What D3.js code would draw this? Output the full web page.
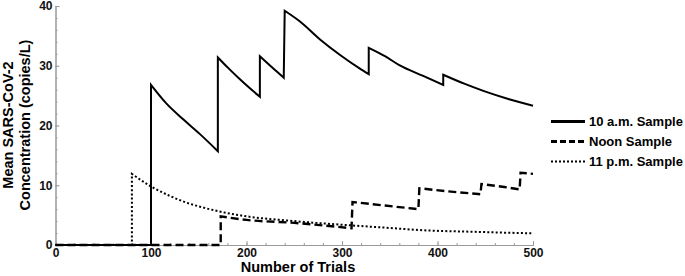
<!DOCTYPE html>
<html lang="en">
<head>
    <meta charset="UTF-8">
    <script src="https://cdnjs.cloudflare.com/ajax/libs/d3/7.8.5/d3.min.js"></script>
    <style>
        body { margin: 0; background: #fff; }
        svg { font-family: "Liberation Sans", Arial, sans-serif; }
    </style>
</head>
<body>
    <svg id="chart" width="685" height="276"></svg>
    <script>
        // [trial, mean concentration]
        const amSample = [
            [0, 0], [100, 0], [100, 26.8], [116, 23.7], [134, 21.0], [151, 18.6], [170, 15.7],
            [170, 31.4], [181, 29.6], [192, 27.9], [203, 26.3], [214, 24.8],
            [214, 31.6], [227, 29.7], [239, 28.0],
            [240, 39.2], [256, 37.4], [277, 34.4], [298, 31.8], [318, 29.6], [328, 28.6],
            [328, 33.0], [345, 31.6], [360, 30.1], [385, 28.3], [406, 26.8],
            [406, 28.5], [428, 27.0], [448, 25.8], [475, 24.4], [500, 23.3]
        ];
        const noonSample = [
            [0, 0], [173, 0], [173, 4.8], [200, 4.2], [250, 3.7], [310, 2.8],
            [311, 7.2], [345, 6.6], [380, 6.0],
            [381, 9.5], [410, 9.0], [445, 8.5],
            [446, 10.2], [470, 9.7], [486, 9.3],
            [487, 12.1], [500, 11.9]
        ];
        const pmSample = [
            [0, 0], [80, 0], [80, 11.9], [100, 9.8], [120, 8.2], [137, 7.1], [155, 6.25],
            [172, 5.6], [200, 4.8], [250, 4.0], [308, 3.3], [350, 2.85], [381, 2.5],
            [440, 2.2], [500, 1.95]
        ];
        const xTicks = [0, 100, 200, 300, 400, 500];
        const yTicks = [0, 10, 20, 30, 40];
        const legendLabels = ["10 a.m. Sample", "Noon Sample", "11 p.m. Sample"];

        const svg = d3.select("#chart");
        const xScale = d3.scaleLinear().domain([0, 500]).range([55.5, 533]);
        const yScale = d3.scaleLinear().domain([0, 40]).range([245, 6]);
        const axisGrey = "#9a9a9a";

        // minor ticks
        svg.append("g")
            .attr("transform", "translate(0,245)")
            .call(d3.axisBottom(xScale).tickValues(d3.range(0, 501, 20)).tickSize(-2).tickFormat(""))
            .call(g => g.selectAll("line,path").attr("stroke", axisGrey));
        svg.append("g")
            .attr("transform", "translate(55.5,0)")
            .call(d3.axisLeft(yScale).tickValues(d3.range(0, 41, 2)).tickSize(-2).tickFormat(""))
            .call(g => g.selectAll("line,path").attr("stroke", axisGrey));

        // major ticks + labels
        const xAxis = d3.axisBottom(xScale).tickValues(xTicks).tickSizeInner(-4).tickSizeOuter(0).tickPadding(3);
        const yAxis = d3.axisLeft(yScale).tickValues(yTicks).tickSizeInner(-4).tickSizeOuter(0).tickPadding(3);

        svg.append("g")
            .attr("transform", "translate(0,245)")
            .call(xAxis)
            .call(g => g.selectAll("line,path").attr("stroke", axisGrey))
            .call(g => g.selectAll("text").attr("font-size", 12).attr("font-weight", "bold")
                .attr("fill", "#111").attr("font-family", "Liberation Sans, Arial, sans-serif"));

        svg.append("g")
            .attr("transform", "translate(55.5,0)")
            .call(yAxis)
            .call(g => g.selectAll("line,path").attr("stroke", axisGrey))
            .call(g => g.selectAll("text").attr("font-size", 12).attr("font-weight", "bold")
                .attr("fill", "#111").attr("font-family", "Liberation Sans, Arial, sans-serif"));

        // series: smooth within each piece, straight vertical jumps between pieces
        const smooth = d3.line().x(d => xScale(d[0])).y(d => yScale(d[1])).curve(d3.curveMonotoneX);
        function stepPath(data) {
            const pieces = [];
            let cur = [data[0]];
            for (let i = 1; i < data.length; i++) {
                if (data[i][0] - data[i - 1][0] <= 1) {
                    pieces.push(cur);
                    cur = [];
                }
                cur.push(data[i]);
            }
            pieces.push(cur);
            return pieces.map((p, i) => {
                const s = p.length > 1 ? smooth(p) : `M${xScale(p[0][0])},${yScale(p[0][1])}`;
                return i === 0 ? s : "L" + s.slice(1);
            }).join("");
        }

        svg.append("path")
            .attr("d", stepPath(pmSample))
            .attr("fill", "none")
            .attr("stroke", "#000")
            .attr("stroke-width", 2)
            .attr("stroke-dasharray", "2,2.2");

        svg.append("path")
            .attr("d", stepPath(noonSample))
            .attr("fill", "none")
            .attr("stroke", "#000")
            .attr("stroke-width", 2.4)
            .attr("stroke-dasharray", "8,4");

        svg.append("path")
            .attr("d", stepPath(amSample))
            .attr("fill", "none")
            .attr("stroke", "#000")
            .attr("stroke-width", 2)
            .attr("stroke-linejoin", "miter");

        // axis titles
        svg.append("text")
            .attr("x", 298).attr("y", 272)
            .attr("text-anchor", "middle")
            .attr("font-size", 14.5).attr("font-weight", "bold")
            .text("Number of Trials");

        const yTitle = svg.append("text")
            .attr("transform", "translate(13,125) rotate(-90)")
            .attr("text-anchor", "middle")
            .attr("font-size", 14.5).attr("font-weight", "bold");
        yTitle.append("tspan").attr("x", 0).attr("y", 0).text("Mean SARS-CoV-2");
        yTitle.append("tspan").attr("x", 0).attr("y", 17).text("Concentration (copies/L)");

        // legend
        const legendStyles = [
            { w: 3, dash: null },
            { w: 3, dash: "6,3" },
            { w: 2.2, dash: "2,2" }
        ];
        const legend = svg.append("g");
        legendLabels.forEach((label, i) => {
            const y = 121.5 + i * 20;
            legend.append("line")
                .attr("x1", 551).attr("x2", 585)
                .attr("y1", y).attr("y2", y)
                .attr("stroke", "#000")
                .attr("stroke-width", legendStyles[i].w)
                .attr("stroke-dasharray", legendStyles[i].dash);
            legend.append("text")
                .attr("x", 589).attr("y", y)
                .attr("dy", "0.36em")
                .attr("font-size", 13).attr("font-weight", "bold")
                .text(label);
        });
    </script>
</body>
</html>
